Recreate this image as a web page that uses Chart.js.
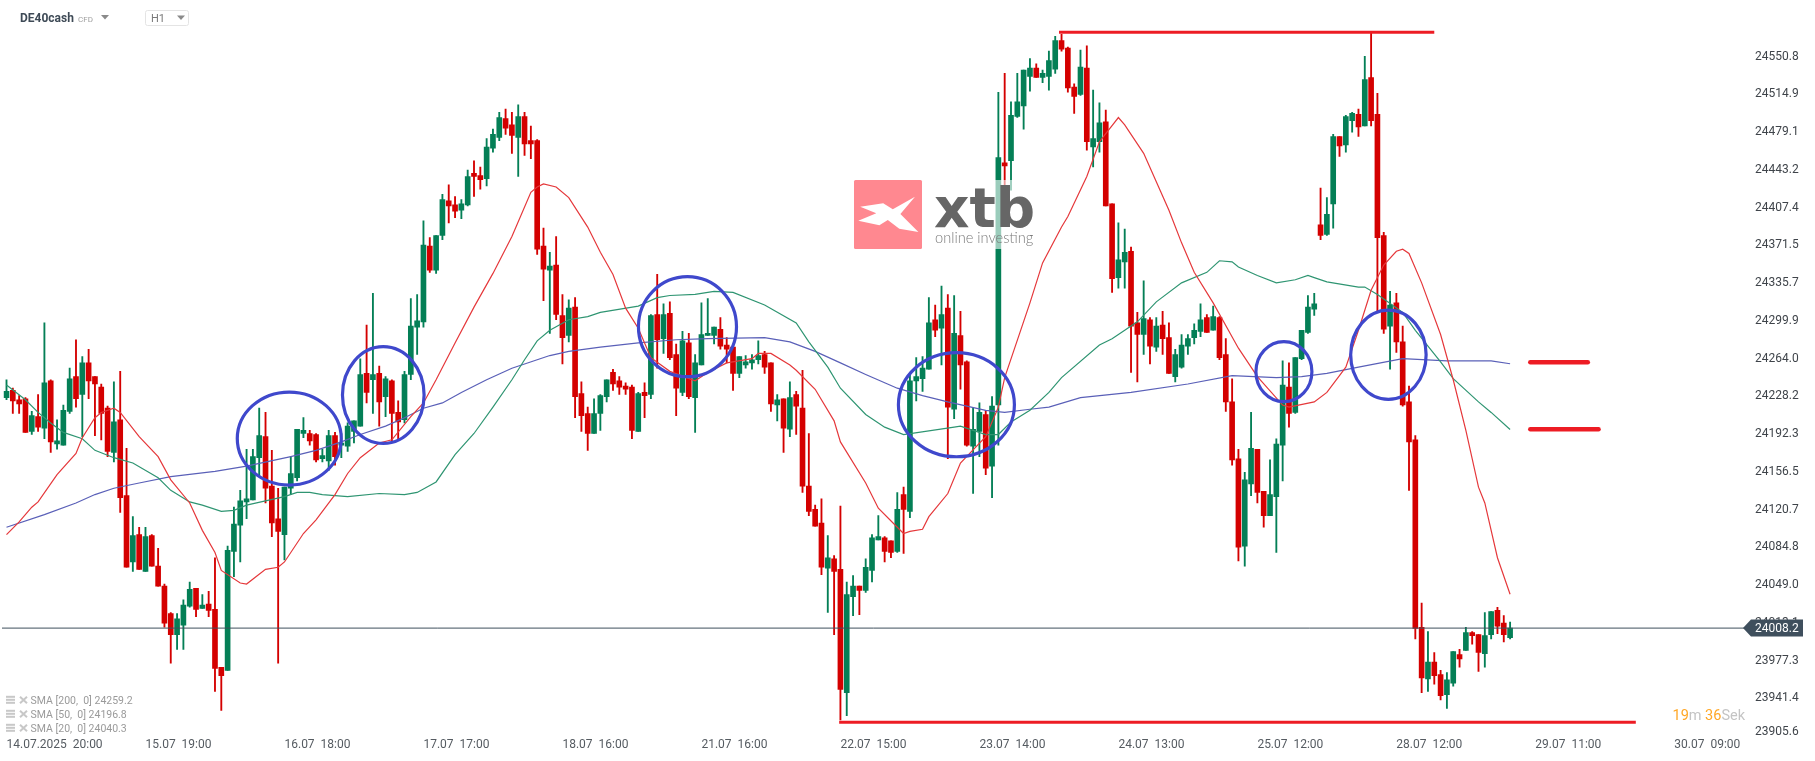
<!DOCTYPE html>
<html><head><meta charset="utf-8"><style>html,body{margin:0;padding:0;background:#fff;overflow:hidden}canvas{display:block}</style>
<script src="https://cdn.jsdelivr.net/npm/chart.js@4"></script></head><body><canvas id="c" width="1815" height="761"></canvas>
<script>
const open=[24227,24234,24225,24226,24195,24209,24198,24243,24183,24182,
24214,24247,24230,24260,24247,24237,24217,24175,24206,24134,
24071,24097,24062,24096,24067,24048,24022,24002,24011,24029,
24046,24027,24031,24026,23971,23968,24081,24106,24128,24130,
24170,24190,24143,24112,24097,24141,24151,24193,24193,24192,
24169,24167,24191,24182,24181,24195,24200,24250,24244,24250,
24228,24243,24213,24206,24249,24294,24299,24371,24348,24381,
24414,24410,24405,24410,24440,24438,24435,24464,24474,24492,
24486,24474,24494,24471,24471,24371,24348,24353,24305,24286,
24313,24231,24212,24193,24212,24228,24251,24243,24238,24237,
24195,24232,24230,24306,24283,24307,24268,24232,24279,24227,
24258,24286,24286,24292,24277,24275,24250,24258,24260,24263,
24268,24260,24220,24226,24197,24230,24217,24143,24121,24108,
24065,24074,24064,23947,24038,24048,24044,24063,24092,24094,
24091,24081,24135,24119,24243,24245,24254,24301,24293,24312,
24216,24286,24261,24181,24195,24211,24162,24220,24450,24452,
24494,24504,24532,24540,24531,24532,24539,24566,24559,24522,
24515,24540,24465,24470,24489,24411,24341,24356,24366,24298,
24287,24301,24275,24296,24284,24247,24256,24276,24284,24290,
24303,24291,24303,24268,24223,24169,24086,24145,24178,24138,
24115,24133,24182,24237,24213,24264,24289,24311,24391,24382,
24411,24475,24467,24490,24496,24485,24531,24496,24381,24295,
24317,24280,24223,24187,24009,23960,23976,23964,23945,23956,
23983,23987,24004,24002,23984,24002,24025,24013,23999];
const close=[24233,24224,24221,24194,24210,24199,24241,24185,24186,24215,
24245,24226,24260,24243,24240,24212,24176,24204,24132,24066,
24096,24064,24095,24067,24048,24013,24002,24017,24030,24045,
24026,24030,24025,23970,23963,24082,24107,24129,24131,24171,
24191,24141,24108,24100,24142,24155,24197,24196,24186,24168,
24172,24191,24171,24184,24200,24205,24249,24232,24249,24223,
24245,24212,24204,24249,24295,24300,24372,24348,24381,24415,
24409,24404,24411,24437,24437,24434,24465,24477,24493,24483,
24476,24494,24468,24468,24368,24349,24352,24306,24284,24312,
24228,24210,24193,24212,24229,24244,24240,24237,24235,24196,
24231,24229,24305,24282,24306,24265,24236,24281,24228,24260,
24287,24288,24294,24276,24273,24250,24266,24261,24263,24267,
24256,24221,24225,24198,24227,24219,24143,24119,24105,24066,
24075,24062,23950,24040,24048,24044,24066,24094,24095,24081,
24080,24121,24121,24243,24247,24255,24298,24291,24306,24218,
24288,24258,24182,24197,24213,24160,24219,24455,24447,24495,
24508,24538,24540,24531,24535,24547,24566,24558,24521,24513,
24541,24470,24473,24488,24409,24340,24358,24365,24295,24287,
24302,24276,24295,24283,24250,24268,24277,24283,24291,24301,
24289,24304,24265,24223,24168,24085,24149,24179,24137,24115,
24135,24183,24239,24212,24265,24291,24313,24316,24381,24401,
24475,24466,24494,24497,24484,24529,24490,24379,24292,24315,
24280,24220,24185,24008,23961,23976,23963,23944,23959,23986,
23979,24004,24001,23985,24001,24024,24010,24002,24008.2];
const high=[24244,24236,24229,24227,24214,24230,24298,24244,24206,24220,
24255,24282,24266,24273,24247,24240,24219,24242,24252,24179,
24114,24104,24104,24097,24084,24050,24023,24022,24035,24052,
24046,24040,24043,24075,23971,24086,24123,24139,24178,24178,
24217,24213,24177,24141,24142,24171,24197,24208,24196,24193,
24178,24196,24194,24193,24203,24205,24264,24296,24326,24257,
24247,24244,24224,24252,24321,24325,24395,24379,24381,24420,
24429,24418,24415,24443,24452,24446,24473,24482,24498,24501,
24498,24505,24498,24485,24472,24388,24365,24380,24325,24320,
24322,24242,24218,24226,24230,24244,24254,24247,24241,24239,
24232,24241,24306,24344,24316,24318,24278,24290,24288,24268,
24317,24321,24294,24303,24284,24275,24266,24267,24268,24281,
24271,24260,24230,24226,24242,24233,24253,24193,24125,24131,
24096,24077,24124,24052,24058,24048,24074,24097,24115,24095,
24091,24137,24142,24249,24265,24266,24322,24315,24333,24325,
24324,24309,24262,24217,24222,24215,24228,24517,24535,24508,
24535,24538,24549,24544,24538,24556,24570,24572,24560,24525,
24557,24561,24519,24507,24500,24411,24393,24387,24370,24308,
24338,24303,24303,24309,24298,24273,24287,24287,24297,24316,
24306,24314,24304,24283,24245,24178,24156,24213,24178,24138,
24168,24188,24262,24260,24265,24291,24324,24326,24426,24417,
24477,24475,24495,24498,24501,24551,24573,24516,24384,24328,
24326,24295,24238,24191,24032,24005,23985,23968,23966,23986,
23988,24009,24005,24002,24023,24024,24028,24020,24014];
const low=[24225,24212,24212,24194,24192,24195,24188,24175,24178,24182,
24212,24218,24190,24226,24191,24187,24171,24166,24118,24066,
24062,24064,24062,24067,24048,24009,23975,23988,23988,24028,
24019,24027,24019,23948,23930,23968,24057,24071,24112,24130,
24153,24127,24095,23975,24073,24135,24148,24189,24182,24166,
24166,24158,24163,24170,24176,24184,24200,24222,24212,24200,
24209,24186,24187,24203,24244,24268,24294,24346,24345,24377,
24393,24398,24397,24409,24418,24425,24428,24460,24471,24477,
24459,24437,24457,24454,24363,24319,24288,24301,24259,24280,
24208,24195,24177,24193,24196,24223,24234,24230,24230,24188,
24195,24208,24226,24255,24269,24263,24210,24229,24226,24194,
24258,24286,24278,24273,24260,24234,24246,24255,24254,24259,
24250,24214,24205,24175,24190,24192,24137,24115,24105,24059,
24023,24002,23921,23925,24020,24021,24042,24052,24092,24071,
24075,24080,24079,24113,24224,24233,24254,24285,24258,24169,
24207,24235,24181,24136,24171,24154,24132,24182,24391,24424,
24493,24482,24518,24531,24526,24519,24535,24556,24517,24497,
24514,24462,24446,24460,24409,24327,24331,24331,24251,24242,
24268,24259,24271,24268,24250,24242,24255,24268,24278,24285,
24289,24291,24263,24214,24163,24072,24067,24134,24127,24104,
24115,24080,24148,24199,24212,24263,24288,24305,24377,24381,
24388,24456,24460,24479,24475,24485,24485,24309,24288,24254,
24270,24219,24139,23998,23947,23948,23955,23940,23932,23953,
23971,23987,23993,23967,23971,23998,24003,23995,23998];

const sma20Bars=[0,2,4,5,8,11,12,14,15,17,18,21,24,26,29,31,33,34,37,38,41,43,44,47,49,52,54,56,59,61,64,66,68,71,74,77,80,83,84,85,87,89,92,94,96,98,100,102,105,109,111,114,118,119,121,124,125,128,131,132,136,138,141,142,143,145,146,149,151,155,157,158,162,164,167,168,171,173,176,177,180,184,186,188,191,195,198,202,203,207,209,212,214,216,218,220,221,222,224,227,229,231,233,234,236,238];
const sma20=[24097,24109,24123,24128,24154,24174,24189,24208,24213,24217,24213,24190,24171,24149,24127,24101,24080,24063,24051,24050,24064,24066,24071,24098,24111,24135,24155,24170,24184,24187,24209,24222,24244,24279,24313,24345,24380,24422,24427,24430,24427,24417,24389,24365,24344,24312,24293,24265,24252,24243,24251,24260,24264,24269,24269,24258,24253,24235,24205,24185,24146,24122,24104,24098,24100,24102,24114,24136,24165,24190,24218,24246,24317,24355,24389,24399,24437,24470,24493,24486,24459,24405,24374,24346,24317,24274,24247,24220,24218,24223,24232,24256,24291,24329,24353,24366,24368,24364,24336,24287,24244,24196,24142,24127,24075,24040.3];
const sma50Bars=[0,3,5,7,9,12,14,17,20,24,26,29,31,34,36,38,41,44,46,48,50,54,59,63,65,68,71,74,77,80,82,84,86,89,92,94,100,103,105,109,112,115,120,125,127,130,132,136,139,142,150,151,155,157,159,162,165,167,173,175,179,182,186,190,192,194,195,198,201,204,206,207,209,214,215,217,221,223,227,229,233,235,238];
const sma50=[24239,24225,24213,24203,24194,24188,24177,24170,24165,24151,24139,24128,24125,24119,24120,24125,24129,24133,24137,24137,24135,24133,24136,24135,24137,24147,24173,24193,24218,24244,24263,24281,24291,24301,24304,24308,24314,24322,24324,24325,24328,24327,24315,24298,24280,24256,24236,24211,24199,24192,24199,24200,24192,24192,24204,24215,24232,24246,24277,24283,24299,24318,24336,24346,24357,24356,24351,24343,24336,24339,24343,24341,24337,24332,24332,24325,24308,24291,24261,24245,24223,24213,24196.8];
const sma200Bars=[0,6,11,14,17,21,26,33,38,45,49,53,56,60,63,66,69,72,76,80,86,89,94,100,106,111,120,124,128,132,136,141,145,149,155,158,162,165,170,178,187,194,201,205,209,214,221,228,235,238];
const sma200=[24104,24116,24127,24135,24141,24146,24152,24157,24162,24171,24177,24185,24192,24200,24208,24217,24222,24232,24244,24255,24267,24271,24275,24279,24282,24283,24284,24280,24271,24260,24249,24236,24229,24223,24215,24213,24216,24218,24227,24232,24240,24248,24246,24247,24250,24256,24264,24262,24262,24259.2];

const xTickLabels=['14.07.2025  20:00','15.07  19:00','16.07  18:00','17.07  17:00','18.07  16:00','21.07  16:00','22.07  15:00','23.07  14:00','24.07  13:00','25.07  12:00','28.07  12:00','29.07  11:00','30.07  09:00'];
const yTickLabels=['24550.8','24514.9','24479.1','24443.2','24407.4','24371.5','24335.7','24299.9','24264.0','24228.2','24192.3','24156.5','24120.7','24084.8','24049.0','24013.1','23977.3','23941.4','23905.6'];
const lastPrice=24008.2;
const legendRows=['SMA [200,  0] 24259.2','SMA [50,  0] 24196.8','SMA [20,  0] 24040.3'];
// drawn marks: [centre bar, centre price, radius in bars, radius in price]
const circles=[[44.76,24188.2,8.23,44.15],[59.64,24229.5,6.46,45.9],[107.79,24294.4,7.76,47.5],[150.36,24220.3,9.18,49.4],[202.2,24251.7,4.43,28.5],[218.74,24267.8,5.97,42.4]];
// drawn levels: [first bar, last bar, price]
const levelLines=[[166.6,226.0,24573.9],[131.8,257.9,23918.8]];
const levelStubs=[[241.2,250.3,24260.6],[241.2,252.0,24197]];

const SLOTS=276, STEP=22;
const GREEN='#047f56', RED='#d40000';
const labels=Array.from({length:SLOTS},(_,i)=>String(i));
const barColors=open.map((o,i)=>close[i]>=o?GREEN:RED);
const sparse=(bars,vals)=>{const a=new Array(open.length).fill(null);bars.forEach((b,k)=>a[b]=vals[k]);return a;};
const tickValue=s=>parseFloat(s);

const overlay={id:'overlay',afterDraw(ch){
  const c=ch.ctx,x=ch.scales.x,y=ch.scales.y;
  const px=v=>x.getPixelForValue(v),py=v=>y.getPixelForValue(v);
  c.save();
  // logo
  c.fillStyle='rgba(255,255,255,.6)';c.fillRect(854,180,180,69);
  c.fillStyle='#ff8890';c.beginPath();c.roundRect(854,180,68,69,1.5);c.fill();
  c.fillStyle='#fff';c.beginPath();
  [[860.2,206.7],[883.2,203.3],[892.8,209.3],[915,196.7],[900.4,214],[918.4,232],[899.3,228.7],[887.8,220],[879.4,225.3],[858.3,220.7],[876.3,213.3]].forEach((p,i)=>i?c.lineTo(p[0],p[1]):c.moveTo(p[0],p[1]));
  c.closePath();c.fill();
  c.fillStyle='#666';c.textBaseline='alphabetic';c.textAlign='left';
  c.font='bold 55px "DejaVu Sans"';c.fillText('xtb',934,227);
  c.fillStyle='#7a7a7a';c.font='300 14.6px Lato';c.fillText('online investing',935,243);
  // price line
  const ly=py(lastPrice);
  c.strokeStyle='#3f4f5d';c.lineWidth=1;c.beginPath();c.moveTo(2,ly);c.lineTo(1745,ly);c.stroke();
  c.fillStyle='#3f4f5d';c.beginPath();c.moveTo(1743,ly);c.lineTo(1751,ly-8.5);c.lineTo(1803,ly-8.5);c.lineTo(1803,ly+8.5);c.lineTo(1751,ly+8.5);c.closePath();c.fill();
  c.fillStyle='#fff';c.font='12px Roboto';c.textBaseline='middle';c.fillText(lastPrice.toFixed(1),1755,ly+1);
  // circles
  c.strokeStyle='#3f48cc';c.lineWidth=3.2;
  circles.forEach(e=>{c.beginPath();c.ellipse(px(e[0]),py(e[1]),px(e[0]+e[2])-px(e[0]),py(e[1]-e[3])-py(e[1]),0,0,Math.PI*2);c.stroke();});
  // levels
  c.strokeStyle='#ed1c24';c.lineWidth=3;c.lineCap='butt';
  levelLines.forEach(l=>{c.beginPath();c.moveTo(px(l[0]),py(l[2]));c.lineTo(px(l[1]),py(l[2]));c.stroke();});
  c.lineWidth=4.5;c.lineCap='round';
  levelStubs.forEach(l=>{c.beginPath();c.moveTo(px(l[0]),py(l[2]));c.lineTo(px(l[1]),py(l[2]));c.stroke();});
  c.lineCap='butt';
  // header
  c.textBaseline='middle';
  c.fillStyle='#3e4a56';c.font='bold 12px Roboto';c.fillText('DE40cash',20,19);
  c.fillStyle='#a0a0a0';c.font='8px Roboto';c.fillText('CFD',78,20);
  const tri=(a,b,w,h)=>{c.fillStyle='#8a8a8a';c.beginPath();c.moveTo(a,b);c.lineTo(a+w,b);c.lineTo(a+w/2,b+h);c.closePath();c.fill();};
  tri(101,15,8,4.5);
  c.strokeStyle='#e4e4e4';c.lineWidth=1;c.beginPath();c.roundRect(145.5,10.5,43,15,2);c.stroke();
  c.fillStyle='#7a7a7a';c.font='11px Roboto';c.fillText('H1',151,19);
  tri(177,15.5,8,4.5);
  // SMA legend
  legendRows.forEach((t,i)=>{const yy=701.3+14*i;
    c.fillStyle='#c8c8c8';for(let k=0;k<3;k++)c.fillRect(6,yy-5.5+k*3,9,2);
    c.strokeStyle='#c8c8c8';c.lineWidth=2;c.beginPath();c.moveTo(20,yy-4.5);c.lineTo(27,yy+2);c.moveTo(27,yy-4.5);c.lineTo(20,yy+2);c.stroke();
    c.fillStyle='#9a9a9a';c.font='10.5px Roboto';c.fillText(t,30.5,yy);});
  // countdown
  let cx=1672.5;c.font='14.5px Roboto';
  [['19','#ffa726'],['m ','#c4c4c4'],['36','#ffa726'],['Sek','#c4c4c4']].forEach(s=>{c.fillStyle=s[1];c.fillText(s[0],cx,716);cx+=c.measureText(s[0]).width;});
  c.restore();
}};

new Chart(document.getElementById('c'),{
  type:'bar',
  data:{labels,datasets:[
    {label:'SMA 20',type:'line',data:sparse(sma20Bars,sma20),borderColor:'#e5383b',borderWidth:1.2,pointRadius:0,spanGaps:true,tension:0,order:0},
    {label:'SMA 50',type:'line',data:sparse(sma50Bars,sma50),borderColor:'#2f9572',borderWidth:1.2,pointRadius:0,spanGaps:true,tension:0,order:0},
    {label:'SMA 200',type:'line',data:sparse(sma200Bars,sma200),borderColor:'#5a60b8',borderWidth:1.2,pointRadius:0,spanGaps:true,tension:0,order:0},
    {label:'Body',data:open.map((o,i)=>[o,close[i]]),backgroundColor:barColors,barThickness:5,grouped:false,order:1},
    {label:'Wick',data:low.map((l,i)=>[l,high[i]]),backgroundColor:barColors,barThickness:1.2,grouped:false,order:2}
  ]},
  options:{
    responsive:false,animation:false,devicePixelRatio:1,
    layout:{autoPadding:false,padding:{left:3.34,right:0,top:0,bottom:0}},
    plugins:{legend:{display:false},tooltip:{enabled:false},title:{display:false}},
    scales:{
      x:{type:'category',offset:true,grid:{display:false,drawTicks:false},border:{display:false},
        afterFit(s){s.height=24;s.paddingLeft=0;s.paddingRight=0;},
        ticks:{autoSkip:false,maxRotation:0,minRotation:0,align:'start',padding:1,color:'#555b61',font:{family:'Roboto',size:12},
          callback(v,i){return i%STEP===0?(xTickLabels[i/STEP]||''):'';}}},
      y:{position:'right',min:23904.8,max:24604.6,grid:{display:false,drawTicks:false},border:{display:false},
        afterFit(s){s.width=68;s.paddingTop=0;s.paddingBottom=0;},
        afterBuildTicks(s){s.ticks=yTickLabels.map(t=>({value:tickValue(t)===23905.6?23909.8:tickValue(t),label:t}));},
        ticks:{padding:8,color:'#3f444a',font:{family:'Roboto',size:12},autoSkip:false,
          callback(v,i){return yTickLabels[i];}}}
    }
  },
  plugins:[overlay]
});
</script></body></html>
